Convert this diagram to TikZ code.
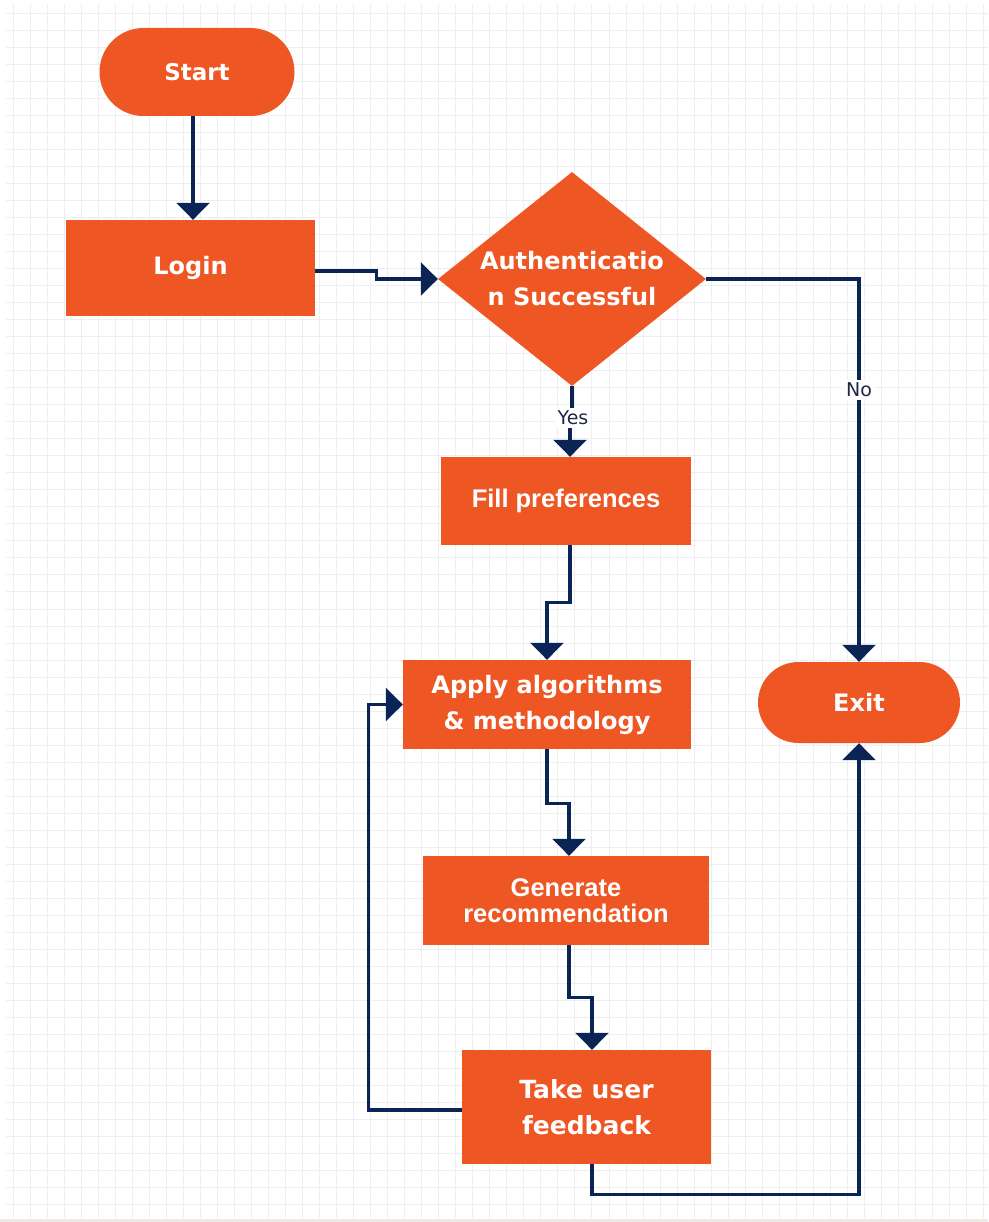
\documentclass[tikz,border=0pt]{standalone}
\usepackage{fontspec}
\usetikzlibrary{shapes.geometric,arrows.meta}
\newfontfamily\boxfont{DejaVu Sans}
\newfontfamily\narrowfont{Liberation Sans}
\definecolor{flowfill}{RGB}{238,86,36}
\definecolor{flowline}{RGB}{10,36,86}
\definecolor{gridline}{RGB}{238,238,241}
\definecolor{labeltext}{RGB}{30,40,70}
\definecolor{edgeband}{RGB}{238,233,227}

\tikzset{
  procbox/.style={rectangle, fill=flowfill, text=white, inner sep=0pt, align=center},
  termbox/.style={rectangle, rounded corners=#1, fill=flowfill, text=white, inner sep=0pt, align=center},
  decbox/.style={diamond, fill=flowfill, text=white, inner sep=0pt, align=center, aspect=1.25},
  flow/.style={draw=flowline, line width=3.2pt,
    -{Triangle[width=33pt,length=17pt]}},
  flowlabel/.style={fill=white, text=labeltext, inner sep=3pt,
    font=\boxfont\fontsize{19}{22}\selectfont},
  wide/.style={font=\boxfont\bfseries\fontsize{#1}{36}\selectfont},
  slim/.style={font=\narrowfont\bfseries\fontsize{25.5}{26}\selectfont}
}

\begin{document}
\begin{tikzpicture}[x=1pt,y=-1pt]
  \useasboundingbox (0,0) rectangle (988,1222);
  \fill[white] (0,0) rectangle (988,1222);

  % background grid
  \foreach \i in {0,...,57}
    \draw[gridline, line width=1pt] ({13.3+17.02*\i},4) -- ({13.3+17.02*\i},1218);
  \foreach \j in {0,...,70}
    \draw[gridline, line width=1pt] (6,{13.3+17.02*\j}) -- (988,{13.3+17.02*\j});
  \draw[edgeband, line width=2.5pt] (0,1220.5) -- (988,1220.5);

  % flowchart boxes
  \node[termbox=44pt, wide=23, minimum width=195pt, minimum height=88pt] (start) at (197,72) {Start};
  \node[procbox, wide=24, minimum width=249pt, minimum height=96pt] (login) at (190.5,268) {Login};
  \node[decbox, wide=24, minimum width=268pt, minimum height=214pt] (auth) at (572,279)
    {Authenticatio\\n Successful};
  \node[procbox, slim, minimum width=250pt, minimum height=88pt] (fill) at (566,501) {Fill preferences};
  \node[procbox, wide=24, minimum width=288pt, minimum height=89pt] (apply) at (547,704.5)
    {Apply algorithms\\\& methodology};
  \node[procbox, slim, minimum width=286pt, minimum height=89pt] (gen) at (566,900.5)
    {Generate\\recommendation};
  \node[procbox, wide=25, minimum width=249pt, minimum height=114pt] (take) at (586.5,1107)
    {Take user\\feedback};
  \node[termbox=40.5pt, wide=24, minimum width=202pt, minimum height=81pt] (exit) at (859,702.5) {Exit};

  % connectors
  \draw[flow] ([xshift=-4pt]start.south) -- ([xshift=-4pt]start.south |- login.north);
  \draw[flow] ([yshift=-3pt]login.east) -- ++(61,0) |- (auth.west);
  \draw[flow] (auth.south) -- ++(0,32) -| ([xshift=4pt]fill.north);
  \draw[flow] ([xshift=4pt]fill.south) -- ++(0,57) -| (apply.north);
  \draw[flow] (apply.south) -- ++(0,54) -| ([xshift=3pt]gen.north);
  \draw[flow] ([xshift=3pt]gen.south) -- ++(0,52) -| ([xshift=5.5pt]take.north);
  \draw[flow] ([yshift=-3pt]take.west) -- ++(-93,0) |- (apply.west);
  \draw[flow] ([xshift=5.5pt]take.south) -- ++(0,30) -| (exit.south);
  \draw[flow] (auth.east) -- (auth.east -| exit.north) -- (exit.north);

  % branch labels
  \node[flowlabel] (yes) at (573,418) {Yes};
  \node[flowlabel] (no) at (859,390) {No};
\end{tikzpicture}
\end{document}
